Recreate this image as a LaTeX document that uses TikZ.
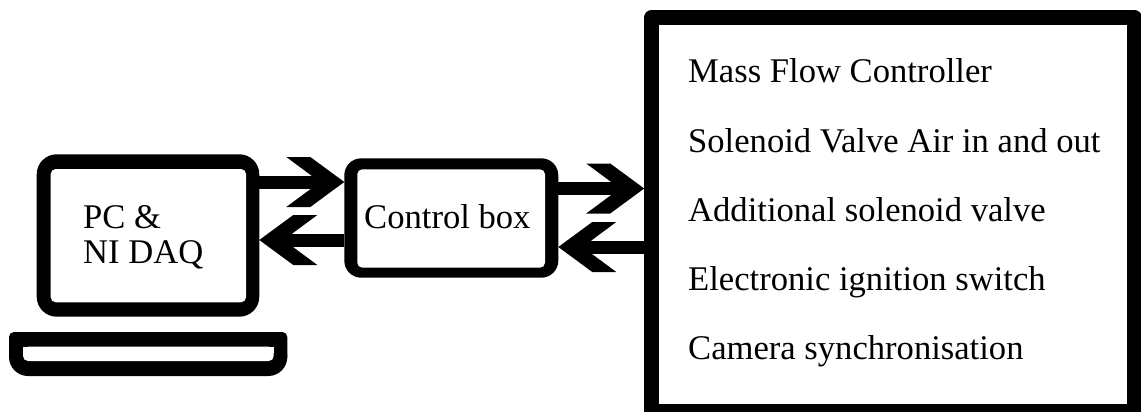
\documentclass[tikz,border=0pt]{standalone}
\usepackage{fontspec}
\setmainfont{Liberation Serif}
\usetikzlibrary{arrows.meta,calc}
\pgfdeclarearrow{
  name=Chev,
  setup code={
    \pgfarrowssettipend{0pt}
    \pgfarrowssetlineend{-30pt}
    \pgfarrowssetvisualbackend{-58pt}
    \pgfarrowssetbackend{-58pt}
  },
  drawing code={
    \pgfpathmoveto{\pgfqpoint{0pt}{0pt}}
    \pgfpathlineto{\pgfqpoint{-34pt}{25pt}}
    \pgfpathlineto{\pgfqpoint{-58pt}{25pt}}
    \pgfpathlineto{\pgfqpoint{-33pt}{6.5pt}}
    \pgfpathlineto{\pgfqpoint{-33pt}{-6.5pt}}
    \pgfpathlineto{\pgfqpoint{-58pt}{-25pt}}
    \pgfpathlineto{\pgfqpoint{-34pt}{-25pt}}
    \pgfpathclose
    \pgfusepathqfill
  }
}
\tikzset{
  x=1pt,y=-1pt,
  plate/.style={fill=black,inner sep=0pt,outer sep=0pt},
  well/.style={fill=white,inner sep=0pt,outer sep=0pt,rounded corners=5pt},
  flow/.style={line width=13pt,-{Chev},black},
  txt/.style={inner sep=0pt,anchor=base west,font=\fontsize{34.6}{35}\selectfont}
}
\begin{document}
\begin{tikzpicture}
\useasboundingbox (0,0) rectangle (1141,412);
% laptop screen
\node[plate,rounded corners=20pt,minimum width=222.6pt,minimum height=162.4pt] (pc) at (148,235.5) {};
\node[well,minimum width=195.3pt,minimum height=133.3pt] (pcin) at (148.35,235.65) {};
% laptop base
\fill[black,rounded corners=5pt] (9,332) rectangle (287.3,362);
\fill[black,rounded corners=19pt] (9,338) rectangle (287.3,376);
\fill[white,rounded corners=5pt] (23,346.7) rectangle (273.7,361);
\fill[white] (23,346.7) rectangle (273.7,353);
% control box
\node[plate,rounded corners=17pt,minimum width=214pt,minimum height=119.4pt] (cb) at (451.3,218) {};
\node[well,minimum width=187.7pt,minimum height=98.4pt] (cbin) at (451.15,218.5) {};
% right box
\node[draw=black,line width=14.6pt,line join=round,inner sep=0pt,outer sep=7.3pt,minimum width=483pt,minimum height=394pt] (sys) at (893,214.5) {};
\coordinate (pcA) at (pc.east |- 0,182);
\coordinate (pcB) at (pc.east |- 0,240);
\coordinate (cbA) at (cb.west |- 0,182);
\coordinate (cbB) at (cb.west |- 0,240);
\coordinate (cbC) at (cb.east |- 0,188.5);
\coordinate (cbD) at (cb.east |- 0,247);
\coordinate (sysC) at (sys.west |- 0,188.5);
\coordinate (sysD) at (sys.west |- 0,247);
\draw[flow] (pcA) -- (cbA);
\draw[flow] (cbB) -- (pcB);
\draw[flow] (cbC) -- (sysC);
\draw[flow] (sysD) -- (cbD);
\node[txt] (t1) at (83,228) {PC \&};
\node[txt] (t2) at (83,263) {NI DAQ};
\node[txt] (t3) at (364,228) {Control box};
\node[txt] (s1) at (688,82) {Mass Flow Controller};
\node[txt] (s2) at (688,152) {Solenoid Valve Air in and out};
\node[txt] (s3) at (688,221) {Additional solenoid valve};
\node[txt] (s4) at (688,290) {Electronic ignition switch};
\node[txt] (s5) at (688,359) {Camera synchronisation};
\end{tikzpicture}
\end{document}
